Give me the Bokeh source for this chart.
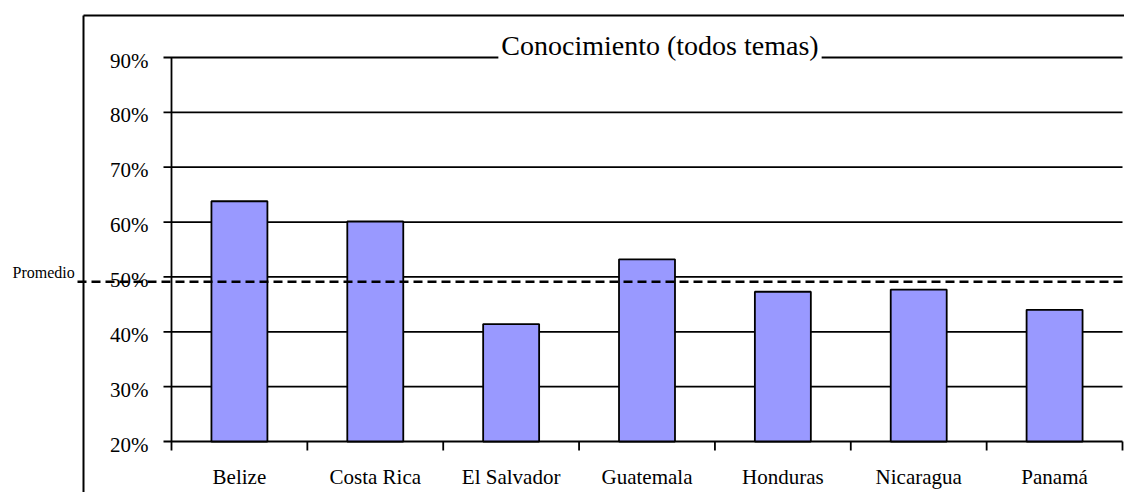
import math
from bokeh.plotting import figure
from bokeh.models import Range1d, Label
from bokeh.embed import file_html
from bokeh.resources import INLINE

# ---- data ----
paises = ["Belize", "Costa Rica", "El Salvador", "Guatemala", "Honduras", "Nicaragua", "Panamá"]
conocimiento = [63.8, 60.1, 41.4, 53.2, 47.3, 47.7, 44.0]
promedio = 49.1
y_ticks = [20, 30, 40, 50, 60, 70, 80, 90]
y_labels = ["20%", "30%", "40%", "50%", "60%", "70%", "80%", "90%"]
titulo = "Conocimiento (todos temas)"
etiqueta_promedio = "Promedio"

# ---- layout (pixels on the canvas) ----
W, H = 1124, 492
AX_X0, AX_X1 = 171, 1122      # category axis from first to last boundary
AX_Y20, AX_Y90 = 441, 57      # 20% and 90% positions
BORDER_X, BORDER_Y = 83, 15   # outer chart border
FONT = "Liberation Serif"

n = len(paises)
ppx = (AX_X1 - AX_X0) / n                    # pixels per category
ppy = (AX_Y20 - AX_Y90) / (y_ticks[-1] - y_ticks[0])  # pixels per percent point


def xd(px):
    return (px - AX_X0) / ppx


def yd(py):
    return y_ticks[0] + (AX_Y20 - py) / ppy


p = figure(width=W, height=H, output_backend="svg", toolbar_location=None,
           x_range=Range1d(xd(0), xd(W)), y_range=Range1d(yd(H), yd(0)),
           min_border=0, min_border_left=0, min_border_right=0,
           min_border_top=0, min_border_bottom=0)
p.axis.visible = False
p.grid.visible = False
p.outline_line_color = None
p.background_fill_color = "white"
p.border_fill_color = "white"

LW = 1.8

# outer border (top and left edges)
p.ray(x=[xd(BORDER_X)], y=[yd(BORDER_Y)], length=0, angle=0, line_color="black", line_width=2)
p.ray(x=[xd(BORDER_X)], y=[yd(BORDER_Y)], length=0, angle=-math.pi / 2, line_color="black", line_width=2)

# horizontal gridlines with their outward tick marks
tick_len = 8 / ppx
p.segment(x0=[-tick_len] * len(y_ticks), y0=y_ticks, x1=[n] * len(y_ticks), y1=y_ticks,
          line_color="black", line_width=LW)

# bars
xpos = [i + 0.5 for i in range(n)]
p.vbar(x=xpos, top=conocimiento, bottom=y_ticks[0], width=0.412,
       fill_color="#9999FF", line_color="black", line_width=LW)

# value axis line
p.segment(x0=[0], y0=[y_ticks[0]], x1=[0], y1=[y_ticks[-1]], line_color="black", line_width=LW)

# category boundary ticks
bounds = list(range(n + 1))
p.ray(x=bounds, y=[y_ticks[0]] * len(bounds), length=9, length_units="screen",
      angle=-math.pi / 2, line_color="black", line_width=LW)

# value axis labels
p.text(x=[0] * len(y_ticks), y=y_ticks, text=y_labels, x_offset=-23, y_offset=3,
       text_align="right", text_baseline="alphabetic",
       text_font={"value": FONT}, text_font_size="21px", text_color="black")

# category labels
p.text(x=xpos, y=[y_ticks[0]] * n, text=paises, y_offset=35,
       text_align="center", text_baseline="alphabetic",
       text_font={"value": FONT}, text_font_size="21px", text_color="black")

# average (dashed) line and its label
p.ray(x=[xd(77)], y=[promedio], length=0, angle=0,
      line_color="black", line_width=2.5, line_dash="9 5")
p.text(x=[xd(12)], y=[promedio], text=[etiqueta_promedio], y_offset=-9,
       text_align="left", text_baseline="alphabetic",
       text_font={"value": FONT}, text_font_size="16px", text_color="black")

# title sitting on the top gridline
p.add_layout(Label(x=n / 2, y=y_ticks[-1], text=titulo, text_align="center",
                   text_baseline="alphabetic", x_offset=13, y_offset=12,
                   text_font=FONT, text_font_size="28px", text_color="black",
                   background_fill_color="white", padding=3))

open("out.html", "w").write(file_html(p, INLINE))
